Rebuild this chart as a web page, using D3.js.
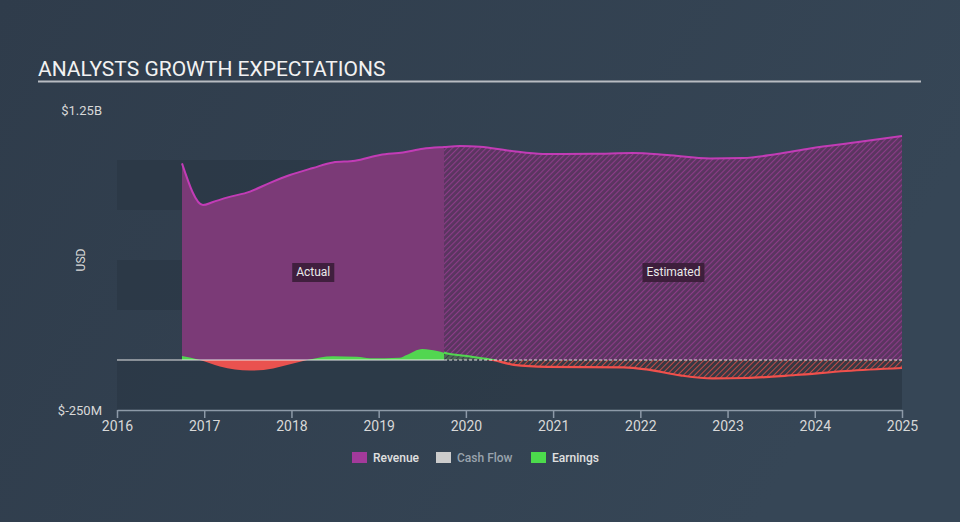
<!DOCTYPE html>
<html><head><meta charset="utf-8">
<script src="https://cdn.jsdelivr.net/npm/d3@7"></script>
<style>
html,body{margin:0;padding:0;background:#323f4e;}
svg{display:block;font-family:Roboto,"Open Sans",sans-serif;}
</style></head>
<body><svg id="c" width="960" height="522"></svg>
<script>
// ---- data (USD billions, decimal years) ----
const revenueYears = [2016.745,2016.986,2017.10,2017.27,2017.525,2017.754,2017.983,2018.247,2018.476,2018.729,2019.015,2019.279,2019.508,2019.75,2019.933,2020.162,2020.506,2020.884,2021.457,2021.916,2022.306,2022.799,2023.177,2023.567,2023.945,2024.518,2025.0];
const revenueValues = [0.983,0.775,0.79,0.813,0.842,0.886,0.925,0.96,0.988,0.996,1.025,1.038,1.056,1.065,1.07,1.066,1.046,1.03,1.031,1.035,1.025,1.008,1.01,1.03,1.058,1.091,1.12];
const earningsYears = [2016.745,2016.95,2017.18,2017.525,2017.79,2017.95,2018.18,2018.476,2018.75,2018.9,2019.24,2019.32,2019.50,2019.67,2019.787,2020.05,2020.31,2020.55,2020.93,2021.81,2022.07,2022.46,2022.83,2023.21,2023.78,2024.36,2025.0];
const earningsValues = [0.02,0.0,-0.033,-0.053,-0.042,-0.025,0.0,0.019,0.016,0.0085,0.011,0.025,0.055,0.045,0.033,0.017,0.0,-0.024,-0.034,-0.037,-0.047,-0.077,-0.092,-0.09,-0.075,-0.055,-0.04];
const xTickLabels = [2016,2017,2018,2019,2020,2021,2022,2023,2024,2025];
const yLabels = ["$1.25B","$-250M"];
const yLabelValues = [1.25,-0.25];
const bandStarts = [1.0,0.5,0.0];
const splitYear = 2019.75;
const legendNames = ["Revenue","Cash Flow","Earnings"];
const legendColors = ["#a33a9b","#cccccc","#4cdb4c"];

const svg = d3.select("#c");
const defs = svg.append("defs");

// background gradient
const bg = defs.append("linearGradient").attr("id","bg").attr("x1","0").attr("y1","0").attr("x2","1").attr("y2","0.3");
bg.append("stop").attr("offset","0").attr("stop-color","#2f3c4b");
bg.append("stop").attr("offset","1").attr("stop-color","#364656");
svg.append("rect").attr("width",960).attr("height",522).attr("fill","url(#bg)");

const x = d3.scaleLinear().domain([2016,2025]).range([117,902]);
const y = d3.scaleLinear().domain([-0.25,1.25]).range([410,110]);
const xs = x(splitYear), y0 = y(0);

// hatch patterns
function hatch(id, base, line, lw){
  const p = defs.append("pattern").attr("id",id).attr("patternUnits","userSpaceOnUse")
    .attr("width",4).attr("height",4).attr("patternTransform","rotate(45)");
  p.append("rect").attr("width",4).attr("height",4).attr("fill",base);
  p.append("line").attr("x1",0).attr("y1",0).attr("x2",0).attr("y2",4).attr("stroke",line).attr("stroke-width",lw);
}
hatch("hRev","#5a3560","#8c3c88",2.2);
hatch("hRed","rgba(60,55,65,0.6)","#c24a45",2);
hatch("hGreen","#4d6a55","#3a3f4a",2);

// clip paths
function clip(id,x0,y0c,w,h){defs.append("clipPath").attr("id",id).append("rect").attr("x",x0).attr("y",y0c).attr("width",w).attr("height",h);}
clip("cAct",0,0,xs,522);
clip("cEst",xs,0,960-xs,522);
clip("cPos",0,0,960,y0);
clip("cNeg",0,y0,960,522-y0);

// bands
svg.selectAll("rect.band").data(bandStarts).enter().append("rect")
  .attr("x",x(2016)).attr("width",x(2025)-x(2016))
  .attr("y",d=>y(d)).attr("height",d=>y(d-0.25)-y(d))
  .attr("fill","#2b3846").attr("opacity",0.75);

const rev = revenueYears.map((d,i)=>[d,revenueValues[i]]);
const earn = earningsYears.map((d,i)=>[d,earningsValues[i]]);
const curve = d3.curveMonotoneX;
const area = d3.area().x(d=>x(d[0])).y0(y0).y1(d=>y(d[1])).curve(curve);
const line = d3.line().x(d=>x(d[0])).y(d=>y(d[1])).curve(curve);

// revenue
svg.append("path").datum(rev).attr("d",area).attr("fill","#7b3a77").attr("clip-path","url(#cAct)");
svg.append("path").datum(rev).attr("d",area).attr("fill","url(#hRev)").attr("clip-path","url(#cEst)");
svg.append("path").datum(rev).attr("d",line).attr("fill","none").attr("stroke","#c23cb6").attr("stroke-width",2);

// earnings
const gA = svg.append("g").attr("clip-path","url(#cAct)");
gA.append("g").attr("clip-path","url(#cPos)").append("path").datum(earn).attr("d",area).attr("fill","#52d650");
gA.append("g").attr("clip-path","url(#cNeg)").append("path").datum(earn).attr("d",area).attr("fill","#ea524f");
const gE = svg.append("g").attr("clip-path","url(#cEst)");
const gEP = gE.append("g").attr("clip-path","url(#cPos)");
gEP.append("path").datum(earn).attr("d",area).attr("fill","url(#hGreen)");
gEP.append("path").datum(earn).attr("d",line).attr("fill","none").attr("stroke","#52d650").attr("stroke-width",2);
const gEN = gE.append("g").attr("clip-path","url(#cNeg)");
gEN.append("path").datum(earn).attr("d",area).attr("fill","url(#hRed)");
gEN.append("path").datum(earn).attr("d",line).attr("fill","none").attr("stroke","#f0504c").attr("stroke-width",2.2);

// zero line
svg.append("line").attr("x1",x(2016)).attr("x2",xs).attr("y1",y0).attr("y2",y0).attr("stroke","#e6e6e6").attr("stroke-width",1.2);
svg.append("line").attr("x1",xs).attr("x2",x(2025)).attr("y1",y0).attr("y2",y0).attr("stroke","#e6e6e6").attr("stroke-width",1.2).attr("stroke-dasharray","3,2");

// x axis
const ax = svg.append("g").attr("transform",`translate(0,${y(-0.25)})`)
  .call(d3.axisBottom(x).tickValues(xTickLabels).tickFormat(d3.format("d")).tickSize(8).tickSizeOuter(0).tickPadding(3));
ax.select(".domain").attr("stroke","#8d9aa8").attr("stroke-width",1.5);
ax.selectAll(".tick line").attr("stroke","#8d9aa8").attr("stroke-width",1.5);
ax.selectAll(".tick text").attr("fill","#d8d8d8").attr("font-size",14).attr("font-family","Roboto");

// y labels
svg.selectAll("text.yl").data(yLabelValues).enter().append("text")
  .attr("x",102).attr("y",d=>y(d)).attr("dy","0.35em").attr("text-anchor","end")
  .attr("fill","#d8d8d8").attr("font-size",13).text((d,i)=>yLabels[i]);
svg.append("text").attr("transform","translate(81,260) rotate(-90)").attr("text-anchor","middle").attr("dy","0.35em")
  .attr("fill","#d8d8d8").attr("font-size",12).text("USD");

// title
svg.append("text").attr("x",38).attr("y",76).attr("fill","#f2f2f2").attr("font-size",21).text("ANALYSTS GROWTH EXPECTATIONS");
svg.append("line").attr("x1",38).attr("x2",921).attr("y1",81.5).attr("y2",81.5).attr("stroke","#b8bcc2").attr("stroke-width",2);

// Actual / Estimated labels
[["Actual",x(2018.25)],["Estimated",x(2022.38)]].forEach(([t,cx])=>{
  const g = svg.append("g");
  const tx = g.append("text").attr("x",cx).attr("y",272).attr("dy","0.35em").attr("text-anchor","middle")
    .attr("fill","#eaeaea").attr("font-size",12).text(t);
  const bb = tx.node().getBBox();
  g.insert("rect","text").attr("x",bb.x-4).attr("y",263).attr("width",bb.width+8).attr("height",19).attr("fill","#3a1d37").attr("opacity",0.9);
});

// legend
const lx = [352,436,531];
const lg = svg.selectAll("g.lg").data(legendNames).enter().append("g").attr("transform",(d,i)=>`translate(${lx[i]},452)`);
lg.append("rect").attr("width",15).attr("height",11).attr("fill",(d,i)=>legendColors[i]);
lg.append("text").attr("x",21).attr("y",6).attr("dy","0.35em").attr("font-size",12).attr("font-weight",500)
  .attr("fill",(d,i)=>i===1?"#9aa3ad":"#e0e0e0").text(d=>d);
</script></body></html>
